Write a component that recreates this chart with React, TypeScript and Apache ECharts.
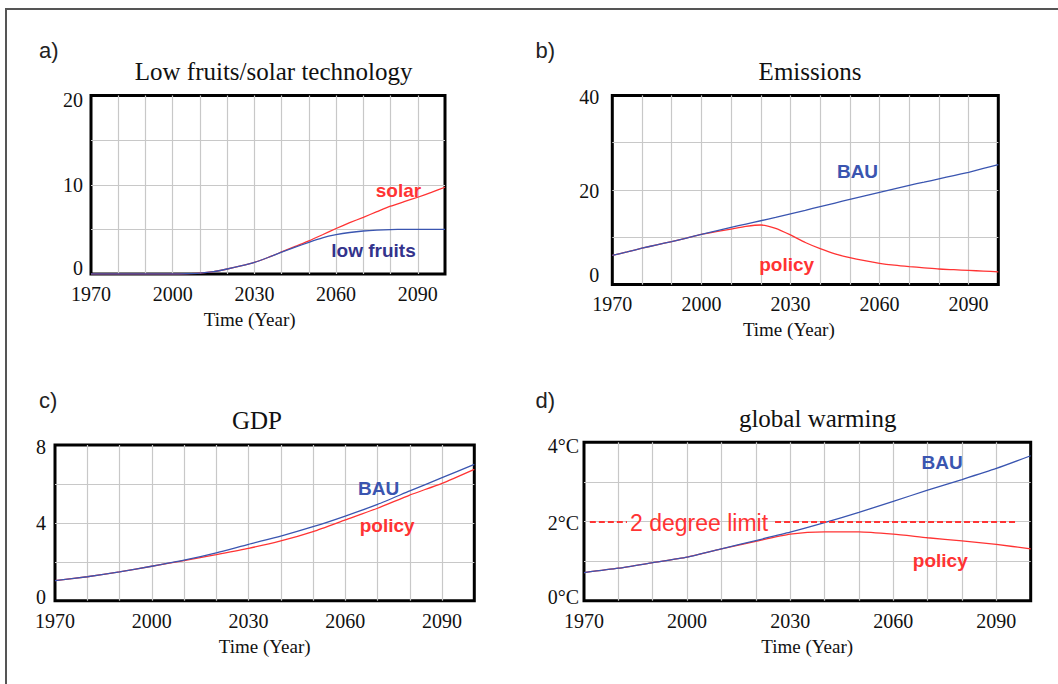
import React, { useEffect, useRef } from "react";
import * as echarts from "echarts";

// ---------- data ----------
const years5 = [1970, 1975, 1980, 1985, 1990, 1995, 2000, 2005, 2010, 2015, 2020, 2025, 2030, 2035, 2040, 2045, 2050, 2055, 2060, 2065, 2070, 2075, 2080, 2085, 2090, 2095, 2100];
const years10 = [1970, 1980, 1990, 2000, 2010, 2020, 2030, 2040, 2050, 2060, 2070, 2080, 2090, 2100];

// a) Low fruits / solar technology
const lowFruits = [0, 0, 0, 0, 0, 0, 0, 0.03, 0.1, 0.27, 0.56, 0.9, 1.3, 1.85, 2.45, 3.0, 3.55, 4.05, 4.4, 4.65, 4.82, 4.92, 4.98, 5, 5, 5, 5];
const solar = [0, 0, 0, 0, 0, 0, 0, 0.03, 0.1, 0.27, 0.56, 0.9, 1.3, 1.85, 2.47, 3.1, 3.72, 4.4, 5.1, 5.75, 6.35, 6.98, 7.6, 8.1, 8.6, 9.15, 9.72];

// b) Emissions
const emisBAU = [6.2, 6.9, 7.7, 8.4, 9.1, 9.85, 10.6, 11.35, 12.1, 12.8, 13.5, 14.2, 14.95, 15.7, 16.5, 17.25, 18.0, 18.75, 19.5, 20.25, 21.0, 21.65, 22.35, 23.05, 23.75, 24.55, 25.35];
const emisPolicy = [6.2, 6.9, 7.7, 8.4, 9.1, 9.85, 10.6, 11.2, 11.75, 12.3, 12.6, 11.9, 10.5, 8.9, 7.6, 6.5, 5.7, 5.05, 4.5, 4.1, 3.8, 3.55, 3.3, 3.15, 3.0, 2.85, 2.7];

// c) GDP
const gdpBAU = [1.03, 1.23, 1.48, 1.77, 2.08, 2.46, 2.9, 3.32, 3.8, 4.35, 4.95, 5.64, 6.32, 7.0];
const gdpPolicy = [1.03, 1.23, 1.48, 1.77, 2.06, 2.37, 2.69, 3.07, 3.55, 4.15, 4.75, 5.43, 6.03, 6.75];

// d) global warming
const tempBAU = [0.71, 0.82, 0.96, 1.1, 1.31, 1.52, 1.73, 1.97, 2.23, 2.51, 2.79, 3.06, 3.34, 3.66];
const tempPolicy = [0.71, 0.82, 0.96, 1.1, 1.31, 1.5, 1.68, 1.74, 1.74, 1.68, 1.59, 1.51, 1.42, 1.31];
const limitValue = 2;
const limitSegments = [[1971.7, 1982.5], [2025.6, 2096.3]];

// ---------- styles ----------
const RED = "#ff3333";
const BLUE = "#3a55b0";
const NAVY = "#33338c";
const GRIDC = "#c8c8c8";
const SERIF = '"Liberation Serif", "Times New Roman", serif';
const SANS = '"Liberation Sans", Arial, sans-serif';

const zip = (xs: number[], ys: number[]) => xs.map((x, i) => [x, ys[i]]);

const grids = [
  { left: 91, top: 95.5, width: 354, height: 178.5 },
  { left: 612.3, top: 95.4, width: 386, height: 189.2 },
  { left: 55, top: 445, width: 419.3, height: 155.7 },
  { left: 584, top: 442.3, width: 446.7, height: 158.4 },
];

function xAxis(i: number, margin: number) {
  return {
    gridIndex: i,
    type: "value",
    min: 1970,
    max: 2100,
    interval: 10,
    axisLine: { show: false },
    axisTick: { show: false },
    splitLine: { show: true, showMinLine: false, showMaxLine: false, lineStyle: { color: GRIDC, width: 1.2 } },
    axisLabel: {
      margin,
      fontFamily: SERIF,
      fontSize: 20,
      color: "#111",
      formatter: (v: number) => ((v - 1970) % 30 === 0 ? String(v) : ""),
    },
  };
}

function yAxis(i: number, max: number, interval: number, every: number, suffix: string, margin: number, pt: number, pm: number, pb: number) {
  const base = { fontFamily: SERIF, fontSize: 20, color: "#111" };
  return {
    gridIndex: i,
    type: "value",
    min: 0,
    max,
    interval,
    axisLine: { show: false },
    axisTick: { show: false },
    splitLine: { show: true, showMinLine: false, showMaxLine: false, lineStyle: { color: GRIDC, width: 1.2 } },
    axisLabel: {
      margin,
      ...base,
      formatter: (v: number) => {
        if (Math.round(v) % every !== 0) return "";
        const key = v === 0 ? "b" : v === max ? "t" : "m";
        return `{${key}|${v}${suffix}}`;
      },
      rich: {
        t: { ...base, padding: [pt, 0, 0, 0] },
        m: { ...base, padding: [pm, 0, 0, 0] },
        b: { ...base, padding: [0, 0, pb, 0] },
      },
    },
  };
}

function line(i: number, xs: number[], ys: number[], color: string, z: number, extra: any = {}) {
  return {
    type: "line",
    xAxisIndex: i,
    yAxisIndex: i,
    data: zip(xs, ys),
    showSymbol: false,
    symbol: "none",
    smooth: 0.2,
    z,
    lineStyle: { color, width: 1.3 },
    itemStyle: { color },
    silent: true,
    ...extra,
  };
}

function txt(x: number, y: number, text: string, font: string, fill: string, align = "center") {
  return {
    type: "text",
    x,
    y,
    z: 100,
    silent: true,
    style: { text, font, fill, align, verticalAlign: "middle", textAlign: align, textVerticalAlign: "middle" },
  };
}

const titleFont = `25px ${SERIF}`;
const axisNameFont = `19px ${SERIF}`;
const letterFont = `22px ${SANS}`;
const labelFont = `bold 19px ${SANS}`;

const option: any = {
  animation: false,
  backgroundColor: "#ffffff",
  grid: grids.map((g) => ({ ...g, show: true, borderColor: "#000", borderWidth: 3, backgroundColor: "transparent", containLabel: false })),
  xAxis: [xAxis(0, 9.5), xAxis(1, 9.5), xAxis(2, 10), xAxis(3, 10)],
  yAxis: [
    yAxis(0, 20, 5, 10, "", 8, 8, 0, 12),
    yAxis(1, 40, 10, 20, "", 13, 4, 2, 19),
    yAxis(2, 8, 2, 4, "", 9, 3, 0, 8),
    yAxis(3, 4, 1, 2, "°C", 5, 7, 3, 8),
  ],
  series: [
    line(0, years5, solar, RED, 3),
    line(0, years5, lowFruits, BLUE, 4),
    line(1, years5, emisPolicy, RED, 3),
    line(1, years5, emisBAU, BLUE, 4),
    line(2, years10, gdpPolicy, RED, 3),
    line(2, years10, gdpBAU, BLUE, 4),
    line(3, years10, tempPolicy, RED, 3, {
      markLine: {
        silent: true,
        symbol: ["none", "none"],
        label: { show: false },
        lineStyle: { color: RED, type: [6, 3], width: 2 },
        data: limitSegments.map((s) => [{ coord: [s[0], limitValue] }, { coord: [s[1], limitValue] }]),
      },
    }),
    line(3, years10, tempBAU, BLUE, 4),
  ],
  graphic: [
    {
      type: "rect",
      silent: true,
      z: 50,
      shape: { x: 6, y: 9, width: 1070, height: 700 },
      style: { fill: "none", stroke: "#555", lineWidth: 2 },
    },
    txt(39, 50, "a)", letterFont, "#222", "left"),
    txt(535.5, 50, "b)", letterFont, "#222", "left"),
    txt(39, 400, "c)", letterFont, "#222", "left"),
    txt(535.5, 400, "d)", letterFont, "#222", "left"),
    txt(273.6, 71, "Low fruits/solar technology", titleFont, "#111"),
    txt(810, 71, "Emissions", titleFont, "#111"),
    txt(257, 420, "GDP", titleFont, "#111"),
    txt(817.7, 418.5, "global warming", titleFont, "#111"),
    txt(249.7, 319.3, "Time (Year)", axisNameFont, "#111"),
    txt(788.8, 329.3, "Time (Year)", axisNameFont, "#111"),
    txt(264.7, 646, "Time (Year)", axisNameFont, "#111"),
    txt(807.2, 646, "Time (Year)", axisNameFont, "#111"),
    txt(398.5, 190, "solar", labelFont, RED),
    txt(373.5, 250.6, "low fruits", labelFont, NAVY),
    txt(857.5, 171.7, "BAU", labelFont, BLUE),
    txt(786.7, 264, "policy", labelFont, RED),
    txt(378.7, 488.4, "BAU", labelFont, BLUE),
    txt(387.2, 525, "policy", labelFont, RED),
    txt(942.2, 462.7, "BAU", labelFont, BLUE),
    txt(940.3, 560.7, "policy", labelFont, RED),
    txt(699, 522.5, "2 degree limit", `23px ${SANS}`, RED),
  ],
};

export default function App() {
  const ref = useRef<HTMLDivElement>(null);
  useEffect(() => {
    document.body.style.margin = "0";
    const chart = echarts.init(ref.current as HTMLDivElement, null, { renderer: "svg" });
    chart.setOption(option);
    return () => chart.dispose();
  }, []);
  return <div ref={ref} style={{ width: 1058, height: 684, background: "#fff" }} />;
}
